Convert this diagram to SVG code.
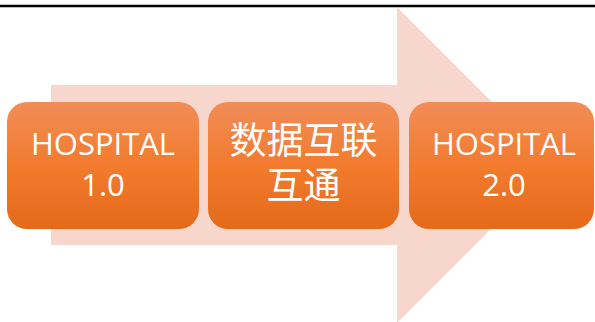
<svg xmlns="http://www.w3.org/2000/svg" width="595" height="322" viewBox="0 0 595 322">
<defs>
<linearGradient id="og" x1="0" y1="0" x2="0" y2="1">
<stop offset="0" stop-color="#F18D58"/>
<stop offset="0.5" stop-color="#F27B2E"/>
<stop offset="1" stop-color="#E56A1A"/>
</linearGradient>
</defs>
<style>
.box{fill:url(#og);}
.t{fill:#FFFFFF;font-family:"Open Sans","Liberation Sans",Arial,sans-serif;font-size:31px;text-anchor:middle;}
.c{fill:#FFFFFF;font-family:"Liberation Sans","Noto Sans CJK SC",sans-serif;font-size:37px;text-anchor:middle;}
</style>
<rect width="595" height="322" fill="#FFFFFF"/>
<line x1="0" y1="6" x2="595" y2="6" stroke="#000000" stroke-width="2.5"/>
<g id="arrow">
<polygon points="51,85 397,85 397,7 555,165 397,323 397,245 51,245" fill="#F7D7CC"/>
</g>
<g id="node1">
<rect class="box" x="7" y="102" width="192" height="127" rx="20"/>
<text class="t" x="103" y="155">HOSPITAL</text>
<text class="t" x="103" y="196">1.0</text>
</g>
<g id="node2">
<rect class="box" x="208" y="102" width="191" height="127" rx="20"/>
<text class="c" x="303.5" y="154">数据互联</text>
<text class="c" x="303.5" y="199">互通</text>
</g>
<g id="node3">
<rect class="box" x="409" y="102" width="185" height="127" rx="20"/>
<text class="t" x="504" y="155">HOSPITAL</text>
<text class="t" x="504" y="196">2.0</text>
</g>
<g id="connectors"></g>
</svg>
